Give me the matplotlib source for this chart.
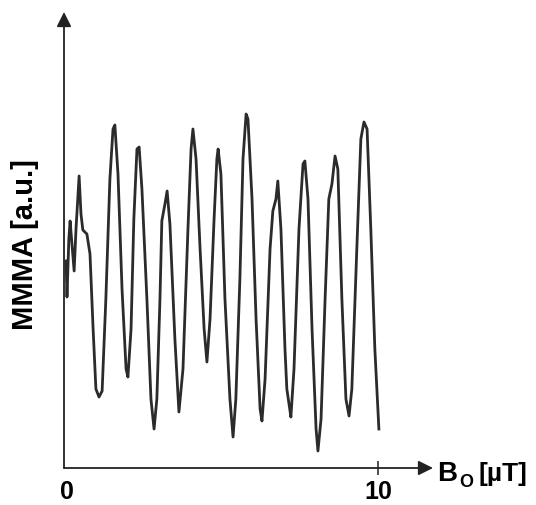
import numpy as np
import matplotlib
matplotlib.use('Agg')
import matplotlib.pyplot as plt

plt.rcParams['font.family'] = ['Liberation Sans', 'DejaVu Sans']

# field B0 in uT and MMMA signal (arbitrary units)
b0 = [-0.03, 0.00, 0.06, 0.10, 0.16, 0.23, 0.29, 0.39, 0.45, 0.51,
      0.64, 0.74, 0.84, 0.93, 1.03, 1.13, 1.25, 1.38, 1.48, 1.54,
      1.64, 1.77, 1.90, 1.96, 2.06, 2.15, 2.25, 2.32, 2.41, 2.57,
      2.70, 2.80, 2.89, 2.99, 3.05, 3.15, 3.22, 3.31, 3.47, 3.60,
      3.73, 3.89, 3.99, 4.05, 4.15, 4.28, 4.41, 4.50, 4.60, 4.73,
      4.82, 4.86, 4.95, 5.08, 5.24, 5.34, 5.43, 5.56, 5.66, 5.76,
      5.82, 5.95, 6.08, 6.21, 6.27, 6.37, 6.53, 6.62, 6.72, 6.78,
      6.88, 7.01, 7.07, 7.14, 7.20, 7.30, 7.46, 7.59, 7.65, 7.75,
      7.88, 8.01, 8.07, 8.17, 8.30, 8.42, 8.52, 8.62, 8.71, 8.84,
      8.97, 9.07, 9.16, 9.32, 9.45, 9.55, 9.65, 9.77, 9.90, 10.03]
mmma = [20.5, 16.9, 22.7, 24.5, 22.2, 19.5, 23.7, 29.0, 25.2, 23.6,
        23.2, 21.2, 13.7, 7.7, 6.9, 7.5, 16.7, 28.7, 33.7, 34.1,
        29.2, 17.7, 9.7, 8.9, 13.7, 24.7, 31.7, 31.9, 27.7, 16.7,
        6.7, 3.7, 6.7, 16.7, 24.5, 26.2, 27.5, 24.2, 12.7, 5.4,
        9.7, 23.7, 31.7, 33.7, 30.7, 21.7, 13.7, 10.4, 14.7, 24.7,
        30.7, 31.7, 29.2, 16.7, 6.7, 2.9, 6.7, 18.7, 30.7, 35.2,
        34.7, 26.7, 14.7, 5.7, 4.5, 8.7, 21.7, 25.5, 26.7, 28.5,
        23.7, 11.7, 7.7, 6.2, 4.9, 9.7, 23.7, 30.2, 30.5, 26.7,
        13.7, 3.7, 1.5, 4.7, 16.7, 26.7, 28.2, 31.0, 29.7, 16.7,
        6.7, 5.0, 7.7, 21.7, 32.7, 34.4, 33.7, 23.7, 11.7, 3.7]
tick_pos = [0, 10]
tick_lbl = ['0', '10']

fig = plt.figure(figsize=(5.36, 5.06), dpi=100)
ax = fig.add_axes([64 / 536, 37 / 506, 369 / 536, 456 / 506])

ax.plot(b0, mmma, color='#2b2b2b', lw=2.0, solid_joinstyle='round')

ax.set_xlim(-0.096, 11.77)
ax.set_ylim(-0.2, 45.4)
for s in ax.spines.values():
    s.set_visible(False)

# axes drawn as arrows
ax.annotate('', xy=(1, 0), xytext=(0, 0), xycoords='axes fraction',
            arrowprops=dict(arrowstyle='-|>', color='#222222', lw=1.3,
                            mutation_scale=22, shrinkA=0, shrinkB=0))
ax.annotate('', xy=(0, 1), xytext=(0, 0), xycoords='axes fraction',
            arrowprops=dict(arrowstyle='-|>', color='#222222', lw=1.3,
                            mutation_scale=22, shrinkA=0, shrinkB=0))

ax.set_yticks([])
ax.set_xticks(tick_pos)
ax.set_xticklabels(tick_lbl, fontsize=18, fontweight='bold')
ax.tick_params(axis='x', direction='inout', length=10, width=1.2,
               color='#333333', pad=3)
ax.xaxis.get_major_ticks()[0].tick1line.set_visible(False)

fig.text(25 / 536, 1 - 245 / 506, 'MMMA [a.u.]', rotation=90,
         ha='center', va='center', fontsize=21, fontweight='bold')
fig.text(437 / 536, 1 - 481 / 506, 'B', fontsize=20, fontweight='bold',
         ha='left', va='baseline')
fig.text(459 / 536, 1 - 487 / 506, 'O', fontsize=13, fontweight='bold',
         ha='left', va='baseline')
fig.text(479 / 536, 1 - 481 / 506, '[µT]', fontsize=19, fontweight='bold',
         ha='left', va='baseline')

fig.savefig('out.png', dpi=100)
